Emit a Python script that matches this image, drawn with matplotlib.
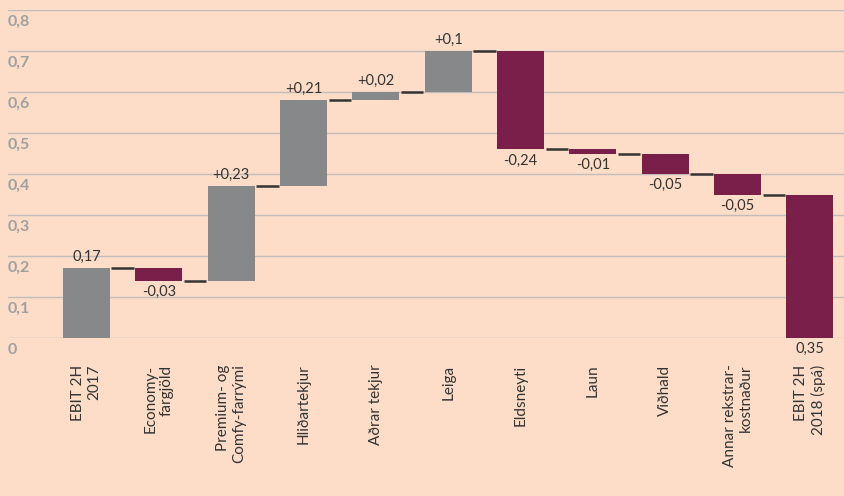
import matplotlib.pyplot as plt
import numpy as np

plt.rcParams['font.family'] = ['Lato', 'DejaVu Sans']

categories = ['EBIT 2H\n2017', 'Economy-\nfargjöld', 'Premium- og\nComfy-farrými',
              'Hliðartekjur', 'Aðrar tekjur', 'Leiga', 'Eldsneyti', 'Laun',
              'Viðhald', 'Annar rekstrar-\nkostnaður', 'EBIT 2H\n2018 (spá)']
start = 0.17
deltas = [-0.03, 0.23, 0.21, 0.02, 0.10, -0.24, -0.01, -0.05, -0.05]
end = 0.35
value_labels = ['0,17', '-0,03', '+0,23', '+0,21', '+0,02', '+0,1', '-0,24',
                '-0,01', '-0,05', '-0,05', '0,35']
yticks = [0, 0.1, 0.2, 0.3, 0.4, 0.5, 0.6, 0.7, 0.8]
ytick_labels = ['0', '0,1', '0,2', '0,3', '0,4', '0,5', '0,6', '0,7', '0,8']

bg = '#FDDDC8'
grey = '#87888A'
maroon = '#7A1E4A'

# waterfall levels
bottoms = [0.0]
tops = [start]
level = start
for d in deltas:
    new = level + d
    bottoms.append(min(level, new))
    tops.append(max(level, new))
    level = new
bottoms.append(0.0)
tops.append(end)
levels = [start] + list(np.cumsum([start] + deltas)[1:])

colors = [grey] + [grey if d > 0 else maroon for d in deltas] + [maroon]

fig = plt.figure(figsize=(8.45, 4.96), dpi=100, facecolor=bg)
ax = fig.add_axes([8 / 845, 158 / 496, 837 / 845, 328 / 496])
ax.set_facecolor(bg)

x = np.arange(len(categories))
w = 0.65
heights = np.array(tops) - np.array(bottoms)
ax.bar(x, heights, bottom=bottoms, width=w, color=colors, zorder=3)

# connectors
for i in range(len(categories) - 1):
    ax.hlines(levels[i], i + w / 2 + 0.02, i + 1 - w / 2 - 0.02,
              color='#333333', lw=1.8, zorder=3)

# value labels
signs = [1] + [1 if d > 0 else -1 for d in deltas] + [-1]
for i, lab in enumerate(value_labels):
    if signs[i] > 0:
        ax.annotate(lab, (x[i], tops[i]), xytext=(0, 3), textcoords='offset points',
                    ha='center', va='bottom', fontsize=10.5, color='#333333')
    else:
        ax.annotate(lab, (x[i], bottoms[i]), xytext=(0, -3), textcoords='offset points',
                    ha='center', va='top', fontsize=10.5, color='#333333',
                    annotation_clip=False)

# grid and y labels
for yv, yl in zip(yticks, ytick_labels):
    ax.axhline(yv, color='#C2BDBA', lw=1, zorder=1)
    ax.annotate(yl, (0, yv), xycoords=('axes fraction', 'data'), xytext=(0, -3.5),
                textcoords='offset points', ha='left', va='top', fontsize=11.5,
                fontweight='bold', color='#A0A0A0', annotation_clip=False)

ax.set_xlim(-1.085, 10.484)
ax.set_ylim(0, 0.8)
ax.set_yticks([])
ax.set_xticks(x)
ax.set_xticklabels(categories, rotation=90, fontsize=11, color='#333333',
                   ha='center', va='top', multialignment='right')
ax.tick_params(axis='x', length=0, pad=19)
for s in ax.spines.values():
    s.set_visible(False)

fig.savefig('out.png', dpi=100, facecolor=bg)
